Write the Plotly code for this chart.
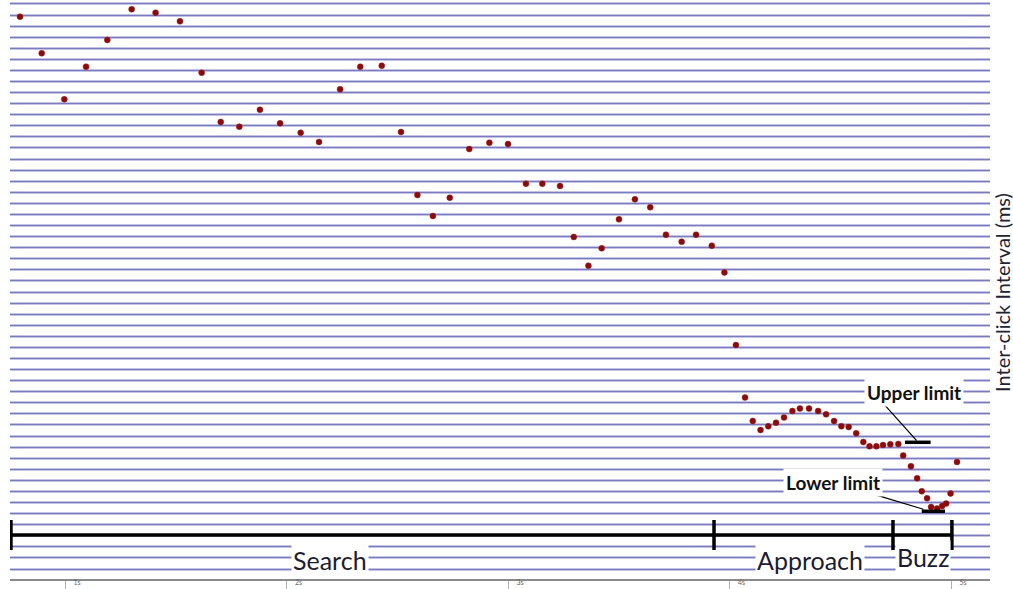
import plotly.graph_objects as go

# Click train: click time (s) and inter-click interval (ms)
click_time_s = [0.797, 0.895, 0.997, 1.095, 1.191, 1.301, 1.409, 1.519, 1.617, 1.703,
                1.787, 1.880, 1.971, 2.064, 2.147, 2.242, 2.333, 2.430, 2.517, 2.591,
                2.661, 2.737, 2.825, 2.916, 3.000, 3.081, 3.155, 3.235, 3.297, 3.363,
                3.423, 3.501, 3.573, 3.642, 3.713, 3.784, 3.849, 3.920, 3.977, 4.029,
                4.070, 4.105, 4.140, 4.175, 4.210, 4.246, 4.284, 4.318, 4.359, 4.400,
                4.436, 4.472, 4.505, 4.538, 4.572, 4.604, 4.632, 4.663, 4.693, 4.726,
                4.762, 4.784, 4.819, 4.847, 4.868, 4.892, 4.910, 4.937, 4.960, 4.978,
                4.998, 5.027]
ici_ms = [99.69, 93.09, 84.78, 90.67, 95.49, 101.03, 100.42, 98.86, 89.58, 80.69,
          79.84, 82.91, 80.45, 78.75, 77.08, 86.59, 90.67, 90.85, 78.88, 67.51,
          63.72, 67.02, 75.81, 76.95, 76.71, 69.55, 69.55, 69.13, 59.93, 54.75,
          57.89, 63.12, 66.73, 65.29, 60.34, 59.08, 60.34, 58.36, 53.52, 40.43,
          30.96, 26.71, 25.09, 25.76, 26.41, 27.35, 28.52, 28.97, 28.97, 28.52,
          27.92, 26.71, 25.76, 25.63, 24.49, 22.92, 22.15, 22.15, 22.38, 22.51,
          22.56, 20.49, 18.54, 16.37, 14.04, 12.76, 11.19, 10.92, 11.37, 11.82,
          13.63, 19.31]

# Phases of the click train
phase_names = ["Search", "Approach", "Buzz"]
phase_bounds_s = [0.756, 3.930, 4.738, 5.004]
phase_label_s = [2.196, 4.363, 4.874]

# Buzz ICI limits
upper_limit_ms = 22.87
lower_limit_ms = 10.42
upper_limit_span_s = [4.792, 4.908]
lower_limit_span_s = [4.868, 4.973]

tick_vals = [1, 2, 3, 4, 5]
tick_text = ["1s", "2s", "3s", "4s", "5s"]

X_RANGE = [0.7517, 5.176]
Y_RANGE = [-1.805, 102.71]
FONT = "Lato"

fig = go.Figure()

# invisible trace that carries the lighter grid layer
fig.add_trace(go.Scatter(x=[X_RANGE[0]], y=[Y_RANGE[0]], mode="markers",
                         marker=dict(opacity=0), hoverinfo="skip",
                         showlegend=False, yaxis="y"))

fig.add_trace(go.Scatter(
    x=click_time_s, y=ici_ms, mode="markers", yaxis="y2",
    marker=dict(symbol="circle", size=6, color="#8c0c0c",
                line=dict(color="rgba(150,30,30,0.45)", width=1)),
    showlegend=False, hoverinfo="x+y"))

shapes = []
bar_y = 6.14
tick_half = 2.71
# phase bar
shapes.append(dict(type="line", xref="x", yref="y", x0=phase_bounds_s[0], x1=phase_bounds_s[-1],
                   y0=bar_y, y1=bar_y, line=dict(color="black", width=3.5)))
for b in phase_bounds_s:
    shapes.append(dict(type="line", xref="x", yref="y", x0=b, x1=b,
                       y0=bar_y - tick_half, y1=bar_y + tick_half,
                       line=dict(color="black", width=3.5)))

# limit markers with leader lines
shapes.append(dict(type="line", xref="x", yref="y", x0=upper_limit_span_s[0], x1=upper_limit_span_s[1],
                   y0=upper_limit_ms, y1=upper_limit_ms, line=dict(color="black", width=3.5)))
shapes.append(dict(type="line", xref="x", yref="y", x0=lower_limit_span_s[0], x1=lower_limit_span_s[1],
                   y0=lower_limit_ms, y1=lower_limit_ms, line=dict(color="black", width=3.5)))
shapes.append(dict(type="line", xref="x", yref="y", x0=4.689, y0=30.14, x1=4.845, y1=23.16,
                   line=dict(color="black", width=1.2)))
shapes.append(dict(type="line", xref="x", yref="y", x0=4.637, y0=13.66, x1=4.875, y1=10.78,
                   line=dict(color="black", width=1.2)))

annotations = []
for name, xs, yv in zip(phase_names, phase_label_s, [1.62, 1.62, 2.17]):
    annotations.append(dict(x=xs, y=yv, xref="x", yref="y", text=name, showarrow=False,
                            font=dict(family=FONT, size=25, color="#1c1c30"),
                            bgcolor="white", borderpad=1))
annotations.append(dict(x=4.831, y=31.82, xref="x", yref="y", text="<b>Upper limit</b>",
                        showarrow=False, font=dict(family=FONT, size=19, color="#111"),
                        bgcolor="white", borderpad=2))
annotations.append(dict(x=4.465, y=15.58, xref="x", yref="y", text="<b>Lower limit</b>",
                        showarrow=False, font=dict(family=FONT, size=19, color="#111"),
                        bgcolor="white", borderpad=2))
annotations.append(dict(x=1.0122, y=0.4957, xref="paper", yref="paper",
                        text="Inter-click Interval (ms)", textangle=-90, showarrow=False,
                        xanchor="center", yanchor="middle", borderpad=0,
                        font=dict(family=FONT, size=20, color="#222233")))

fig.update_layout(
    width=1013, height=589,
    margin=dict(l=10, r=23, t=0, b=10, autoexpand=False),
    paper_bgcolor="white", plot_bgcolor="white",
    shapes=shapes, annotations=annotations,
    xaxis=dict(range=X_RANGE, showgrid=False, zeroline=False, showline=True,
               linecolor="#8a8a8a", linewidth=2, ticks="outside", ticklen=9,
               tickcolor="#b0b0b0", tickwidth=1, tickvals=tick_vals, ticktext=tick_text,
               tickfont=dict(family=FONT, size=7, color="#666"),
               ticklabelshift=12, ticklabelstandoff=-13, automargin=False),
    yaxis=dict(range=Y_RANGE, tick0=0, dtick=2, showgrid=True, gridcolor="#c3c3e6",
               gridwidth=3.2, showticklabels=False, zeroline=False, ticks="",
               automargin=False),
    yaxis2=dict(range=Y_RANGE, tick0=0, dtick=2, showgrid=True, gridcolor="#7b7bbd",
                gridwidth=1.2, showticklabels=False, zeroline=False, ticks="",
                overlaying="y", side="right", automargin=False),
)

fig.write_html("out.html")
